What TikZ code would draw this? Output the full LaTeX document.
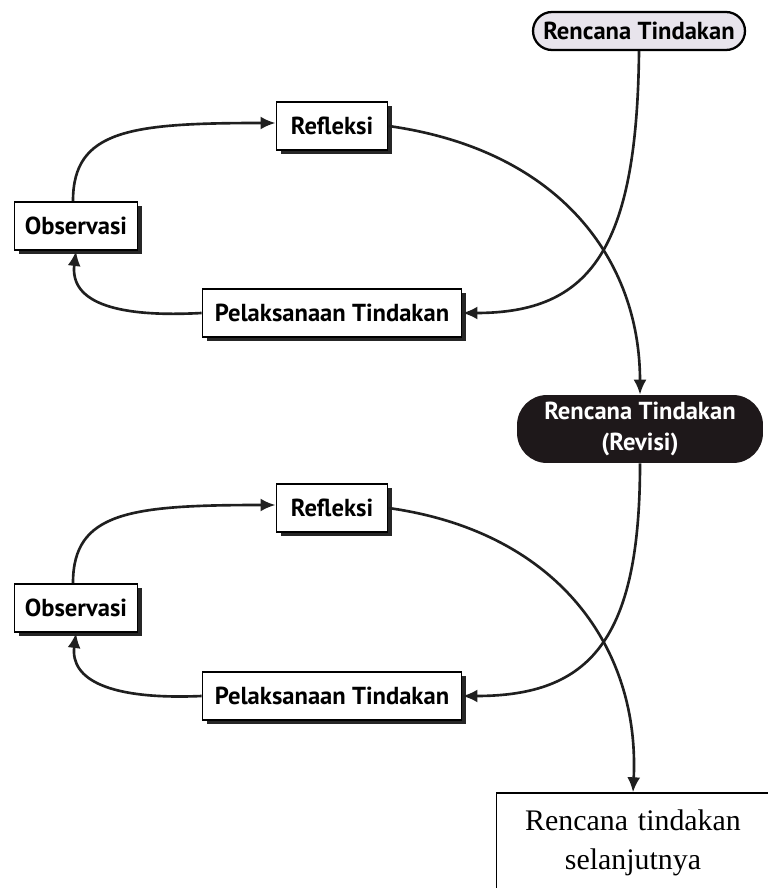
\documentclass[tikz,border=0pt]{standalone}
\usepackage{fontspec}
\usetikzlibrary{arrows.meta,shadows}
\newfontfamily\labelfont{PT Sans}
\newfontfamily\notefont{Liberation Serif}
\definecolor{planfill}{RGB}{232,228,236}
\definecolor{revfill}{RGB}{30,24,26}

\begin{document}
\begin{tikzpicture}[x=0.02cm,y=-0.02cm]
    \tikzstyle{every node}+=[font=\labelfont\bfseries\fontsize{14}{16.5}\selectfont, inner sep=0pt]
    \tikzstyle{stagebox}=[draw=black, line width=1.1pt, fill=white, minimum height=0.96cm,
        drop shadow={shadow xshift=2.5pt, shadow yshift=-2.5pt, fill=black!85, opacity=1}]
    \tikzstyle{flow}=[line width=1.5pt, black!88, -{Latex[length=3mm,width=2.6mm]}]
    \useasboundingbox (0,0) rectangle (767,888);

    \node [draw=black, line width=1.3pt, fill=planfill, rounded corners=0.38cm,
        minimum width=4.24cm, minimum height=0.76cm] (plan) at (639,31) {Rencana Tindakan};
    \node [stagebox, minimum width=2.22cm] (refl1) at (332,126) {Refleksi};
    \node [stagebox, minimum width=2.46cm] (obs1) at (76,226) {Observasi};
    \node [stagebox, minimum width=5.18cm] (act1) at (332,313) {Pelaksanaan Tindakan};
    \node [fill=revfill, text=white, rounded corners=0.6cm, align=center,
        font=\labelfont\bfseries\fontsize{14}{18}\selectfont,
        minimum width=4.92cm, minimum height=1.36cm] (revisi) at (640,429) {Rencana Tindakan\\(Revisi)};
    \node [stagebox, minimum width=2.22cm] (refl2) at (332,508) {Refleksi};
    \node [stagebox, minimum width=2.46cm] (obs2) at (76,608) {Observasi};
    \node [stagebox, minimum width=5.18cm] (act2) at (332,696) {Pelaksanaan Tindakan};
    \node [draw=black, line width=0.8pt, fill=white, align=center, text width=5.4cm,
        minimum width=5.46cm, minimum height=2cm,
        font=\notefont\fontsize{17}{22}\selectfont] (next) at (633,843) {Rencana tindakan\\selanjutnya};

    \draw [flow] (plan.south) .. controls (637,250) and (590,313) .. (act1.east);
    \draw [flow] (refl1.east) .. controls (560,150) and (640,260) .. (revisi.north);
    \draw [flow] (act1.west) .. controls (110,318) and (70,300) .. (obs1.south);
    \draw [flow] ([xshift=-0.06cm]obs1.north) .. controls (73,130) and (130,123) .. ([yshift=0.06cm]refl1.west);
    \draw [flow] (revisi.south) .. controls (640,640) and (590,696) .. (act2.east);
    \draw [flow] (refl2.east) .. controls (560,532) and (640,650) .. (next.north);
    \draw [flow] (act2.west) .. controls (110,700) and (70,680) .. (obs2.south);
    \draw [flow] ([xshift=-0.06cm]obs2.north) .. controls (73,512) and (130,505) .. ([yshift=0.06cm]refl2.west);
\end{tikzpicture}
\end{document}
